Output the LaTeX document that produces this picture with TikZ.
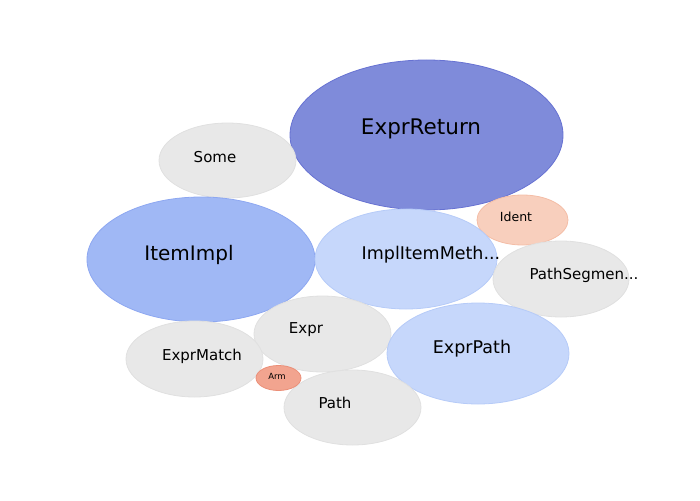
\documentclass[tikz,border=0pt]{standalone}
\usepackage{fontspec}
\setmainfont{DejaVu Sans}
\usetikzlibrary{
    positioning,
    shapes.geometric
}
\definecolor{darkblue}{HTML}{7F8BDA}
\definecolor{darkblueline}{HTML}{6772D2}
\definecolor{midblue}{HTML}{A0B8F5}
\definecolor{midblueline}{HTML}{8DA7F1}
\definecolor{paleblue}{HTML}{C6D7FB}
\definecolor{paleblueline}{HTML}{B6CBF8}
\definecolor{lightgray}{HTML}{E8E8E8}
\definecolor{lightgrayline}{HTML}{E0E0E0}
\definecolor{peach}{HTML}{F8CFBD}
\definecolor{peachline}{HTML}{F4BDA6}
\definecolor{salmon}{HTML}{F2A48F}
\definecolor{salmonline}{HTML}{EB8F78}
\newcommand{\fsz}[1]{\fontsize{#1}{#1}\selectfont}
\tikzset{
    every picture/.style = {
        x = 1pt,
        y = -1pt
    },
    bubble/.style args = {#1 and #2}{%
        ellipse,
        inner sep = 0pt,
        outer sep = 0pt,
        minimum width = 2*#1 pt,
        minimum height = 2*#2 pt,
        line width = 0.8pt
    },
    gray bubble/.style = {fill = lightgray, draw = lightgrayline},
    pale bubble/.style = {fill = paleblue, draw = paleblueline},
    word/.style = {
        inner sep = 0pt,
        outer sep = 0pt,
        text = black
    }
}

\begin{document}
\begin{tikzpicture}
    \useasboundingbox (0,0) rectangle (700,500);

    % bubbles
    \node[bubble = {136.5 and 75}, fill = darkblue, draw = darkblueline] (exprreturn) at (426.5,135) {};
    \node[bubble = {68.5 and 37.5}, gray bubble] (some) at (227.5,160.5) {};
    \node[bubble = {45.5 and 25}, fill = peach, draw = peachline] (ident) at (522.5,220) {};
    \node[bubble = {114 and 62.5}, fill = midblue, draw = midblueline] (itemimpl) at (201,259.5) {};
    \node[bubble = {91 and 50}, pale bubble] (implitem) at (406,259) {};
    \node[bubble = {68 and 38}, gray bubble] (pathseg) at (561,279) {};
    \node[bubble = {68.5 and 38}, gray bubble] (expr) at (322.5,334) {};
    \node[bubble = {91 and 50.5}, pale bubble] (exprpath) at (478,353.5) {};
    \node[bubble = {68.5 and 38}, gray bubble] (exprmatch) at (194.5,359) {};
    \node[bubble = {68.5 and 37.5}, gray bubble] (path) at (352.5,407.5) {};
    \node[bubble = {22.5 and 12.5}, fill = salmon, draw = salmonline] (arm) at (278.5,378) {};

    % labels
    \node[word, font = \fsz{21.5}] (exprreturn-l) at (421,129) {ExprReturn};
    \node[word, font = \fsz{15}] (some-l) at (215,157) {Some};
    \node[word, font = \fsz{12.5}] (ident-l) at (516,217) {Ident};
    \node[word, font = \fsz{20}] (itemimpl-l) at (189,255) {ItemImpl};
    \node[word, font = \fsz{17.5}] (implitem-l) at (431,255) {ImplItemMeth...};
    \node[word, font = \fsz{15}] (pathseg-l) at (584,275) {PathSegmen...};
    \node[word, font = \fsz{15}] (expr-l) at (306,330) {Expr};
    \node[word, font = \fsz{17.5}] (exprpath-l) at (472,349) {ExprPath};
    \node[word, font = \fsz{15}] (exprmatch-l) at (202,356) {ExprMatch};
    \node[word, font = \fsz{8.5}] (arm-l) at (277,376) {Arm};
    \node[word, font = \fsz{15}] (path-l) at (335,403) {Path};
\end{tikzpicture}
\end{document}
